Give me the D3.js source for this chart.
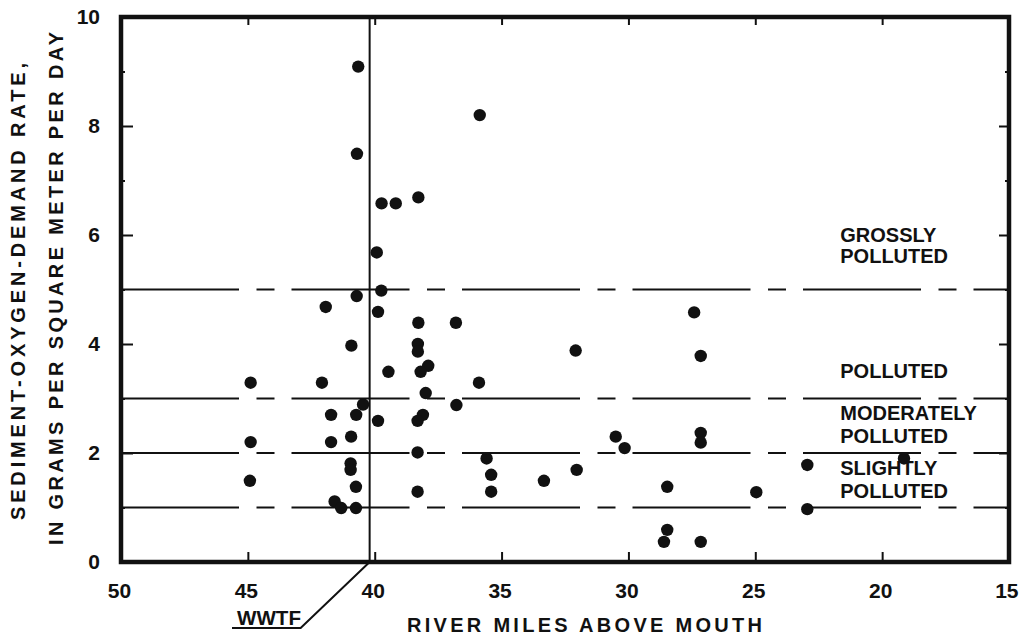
<!DOCTYPE html>
<html>
<head>
<meta charset="utf-8">
<script src="https://cdn.jsdelivr.net/npm/d3@7"></script>
<style>
  html, body { margin: 0; padding: 0; background: #fff; }
  svg { display: block; }
  text { font-family: "Liberation Sans", Arial, sans-serif; font-weight: bold; fill: #111; }
</style>
</head>
<body>
<svg id="chart" width="1019" height="636"></svg>
<script>
// ---- data ----
const riverMiles = [
  40.65, 40.7, 39.73, 39.17, 38.28, 39.92,
  39.74, 40.71, 41.93, 39.87, 38.28, 40.92, 38.3, 38.3, 39.46, 37.89, 38.19,
  44.89, 42.08, 37.99, 40.46, 41.72, 40.73, 39.87, 38.1, 38.31,
  44.89, 41.72, 40.93, 38.31, 40.95, 40.95, 40.74, 38.31, 44.92, 41.58, 41.32, 40.74,
  35.86, 36.8, 35.89, 36.78, 35.59, 35.41, 35.41, 33.33, 32.08, 32.04,
  30.5, 30.15, 28.47, 28.47, 28.6, 27.41, 27.15, 27.15, 27.15, 27.15,
  24.96, 22.95, 22.95, 19.14
];
const sodRate = [
  9.09, 7.49, 6.58, 6.58, 6.69, 5.68,
  4.98, 4.88, 4.68, 4.59, 4.39, 3.97, 4.0, 3.86, 3.49, 3.6, 3.49,
  3.29, 3.29, 3.1, 2.89, 2.7, 2.7, 2.59, 2.7, 2.59,
  2.2, 2.2, 2.3, 2.01, 1.81, 1.69, 1.38, 1.29, 1.49, 1.11, 0.99, 0.99,
  8.2, 4.39, 3.29, 2.88, 1.9, 1.6, 1.29, 1.49, 3.88, 1.69,
  2.3, 2.09, 1.38, 0.59, 0.37, 4.58, 3.78, 2.37, 2.19, 0.37,
  1.28, 1.78, 0.97, 1.9
];
const xTickLabels = [50, 45, 40, 35, 30, 25, 20, 15];
const xInnerTicks = [45, 40, 35, 30, 25, 20];
const yTickLabels = [0, 2, 4, 6, 8, 10];
const yMinorTicks = [1, 3, 5, 7, 9];
const classLimits = [1, 2, 3, 5];
const wwtfMile = 40.2;
const classLabels = [
  { text: "GROSSLY", y: 5.87 }, { text: "POLLUTED", y: 5.49 },
  { text: "POLLUTED", y: 3.38 },
  { text: "MODERATELY", y: 2.61 }, { text: "POLLUTED", y: 2.18 },
  { text: "SLIGHTLY", y: 1.60 }, { text: "POLLUTED", y: 1.17 }
];
const classLabelMile = 21.65;
const xTitle = "RIVER MILES ABOVE MOUTH";
const yTitle1 = "SEDIMENT-OXYGEN-DEMAND RATE,";
const yTitle2 = "IN GRAMS PER SQUARE METER PER DAY";

// ---- chart ----
const svg = d3.select("#chart");
const x = d3.scaleLinear().domain([50, 15]).range([121, 1009]);
const y = d3.scaleLinear().domain([0, 10]).range([562, 17]);
const ink = "#111";

// class boundary lines (long-short dashed)
svg.append("g").selectAll("line").data(classLimits).join("line")
  .attr("x1", x(50)).attr("x2", x(15))
  .attr("y1", d => y(d)).attr("y2", d => y(d))
  .attr("stroke", ink).attr("stroke-width", 2)
  .attr("stroke-dasharray", "118 17.5 18 17");

// WWTF line
svg.append("line")
  .attr("x1", x(wwtfMile)).attr("x2", x(wwtfMile))
  .attr("y1", y(10)).attr("y2", y(0))
  .attr("stroke", ink).attr("stroke-width", 2);
svg.append("path")
  .attr("d", `M${x(wwtfMile)},${y(0)} L${x(wwtfMile) - 69},628 L232,628`)
  .attr("fill", "none").attr("stroke", ink).attr("stroke-width", 2);
svg.append("text").attr("x", 237).attr("y", 625)
  .attr("font-size", 20).attr("textLength", 64).attr("lengthAdjust", "spacingAndGlyphs")
  .text("WWTF");

// axes
function styleAxis(g) {
  g.select(".domain").remove();
  g.selectAll("line").attr("stroke", ink).attr("stroke-width", 2);
  g.selectAll("text").attr("font-size", 21).attr("fill", ink)
    .style("font-family", '"Liberation Sans", Arial, sans-serif').style("font-weight", "bold");
}
svg.append("g").attr("transform", `translate(0,${y(0)})`)
  .call(d3.axisBottom(x).tickValues(xTickLabels).tickSize(0).tickPadding(21).tickFormat(d3.format("d")))
  .call(styleAxis)
  .call(g => g.selectAll(".tick text").attr("dx", -2)
    .filter(d => d === 15).attr("text-anchor", "end").attr("dx", 9));
svg.append("g").attr("transform", `translate(0,${y(0)})`)
  .call(d3.axisBottom(x).tickValues(xInnerTicks).tickSize(-10).tickFormat(""))
  .call(styleAxis);
svg.append("g").attr("transform", `translate(0,${y(10)})`)
  .call(d3.axisTop(x).tickValues(xInnerTicks).tickSize(-8).tickFormat(""))
  .call(styleAxis);
svg.append("g").attr("transform", `translate(${x(50)},0)`)
  .call(d3.axisLeft(y).tickValues(yTickLabels).tickSize(-12).tickPadding(21).tickFormat(d3.format("d")))
  .call(styleAxis);
svg.append("g").attr("transform", `translate(${x(50)},0)`)
  .call(d3.axisLeft(y).tickValues(yMinorTicks).tickSize(-4).tickFormat(""))
  .call(styleAxis);
svg.append("g").attr("transform", `translate(${x(15)},0)`)
  .call(d3.axisRight(y).tickValues(yTickLabels.slice(1, -1)).tickSize(-10).tickFormat(""))
  .call(styleAxis);
svg.append("g").attr("transform", `translate(${x(15)},0)`)
  .call(d3.axisRight(y).tickValues(yMinorTicks).tickSize(-4).tickFormat(""))
  .call(styleAxis);

// frame
svg.append("rect")
  .attr("x", x(50)).attr("y", y(10))
  .attr("width", x(15) - x(50)).attr("height", y(0) - y(10))
  .attr("fill", "none").attr("stroke", ink).attr("stroke-width", 4.5);

// class labels
svg.append("g").selectAll("text").data(classLabels).join("text")
  .attr("x", x(classLabelMile)).attr("y", d => y(d.y))
  .attr("font-size", 20).text(d => d.text);

// points
svg.append("g").selectAll("circle").data(riverMiles.map((m, i) => [m, sodRate[i]])).join("circle")
  .attr("cx", d => x(d[0])).attr("cy", d => y(d[1])).attr("r", 6.2).attr("fill", ink);

// titles
svg.append("text").attr("x", 407).attr("y", 632)
  .attr("font-size", 20).attr("textLength", 355).attr("lengthAdjust", "spacing")
  .text(xTitle);
svg.append("text").attr("transform", "translate(25,520) rotate(-90)")
  .attr("font-size", 20).attr("textLength", 457).attr("lengthAdjust", "spacing")
  .text(yTitle1);
svg.append("text").attr("transform", "translate(63,545) rotate(-90)")
  .attr("font-size", 20).attr("textLength", 513).attr("lengthAdjust", "spacing")
  .text(yTitle2);
</script>
</body>
</html>
